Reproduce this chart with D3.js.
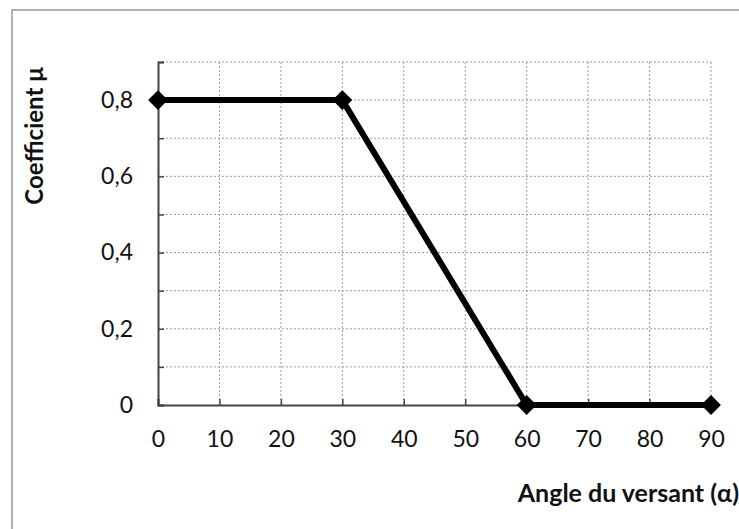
<!DOCTYPE html>
<html>
<head>
<meta charset="utf-8">
<script src="https://cdn.jsdelivr.net/npm/d3@7"></script>
<style>
body { margin: 0; background: #fff; }
svg { display: block; }
</style>
</head>
<body>
<svg id="chart" width="739" height="529"></svg>
<script>
// angle du versant (degrees) and coefficient mu
var angles = [0, 30, 60, 90];
var coeffs = [0.8, 0.8, 0, 0];
var xTicks = [0, 10, 20, 30, 40, 50, 60, 70, 80, 90];
var yTicks = [0, 0.2, 0.4, 0.6, 0.8];
var yGrid = [0.1, 0.2, 0.3, 0.4, 0.5, 0.6, 0.7, 0.8, 0.9];

var svg = d3.select('#chart');
var margin = {top: 62, left: 158, right: 28, bottom: 124};
var w = 739 - margin.left - margin.right;
var h = 529 - margin.top - margin.bottom;
var font = 'Lato, Open Sans, sans-serif';

// scanned frame
svg.append('path')
    .attr('d', 'M12,529 L12,10 L739,10')
    .attr('fill', 'none')
    .attr('stroke', '#9a9a9a')
    .attr('stroke-width', 1.5);

var g = svg.append('g')
    .attr('transform', 'translate(' + margin.left + ',' + margin.top + ')');

var x = d3.scaleLinear().domain([0, 90]).range([0, w]);
var y = d3.scaleLinear().domain([0, 0.9]).range([h, 0]);

// grid
g.selectAll('.hgrid')
    .data(yGrid)
    .enter()
    .append('line')
    .attr('x1', 0)
    .attr('x2', w)
    .attr('y1', function (d) { return y(d); })
    .attr('y2', function (d) { return y(d); })
    .attr('stroke', '#999')
    .attr('stroke-width', 1)
    .attr('stroke-dasharray', '2,2');

g.selectAll('.vgrid')
    .data(xTicks.slice(1))
    .enter()
    .append('line')
    .attr('x1', function (d) { return x(d); })
    .attr('x2', function (d) { return x(d); })
    .attr('y1', 0)
    .attr('y2', h)
    .attr('stroke', '#999')
    .attr('stroke-width', 1)
    .attr('stroke-dasharray', '2,2');

// axes lines with inward ticks
var xAxis = d3.axisBottom(x).tickValues(xTicks).tickSize(-6).tickPadding(26)
    .tickFormat(d3.format('d'));
var yAxis = d3.axisLeft(y).tickValues(yGrid.concat([0])).tickSize(-6).tickPadding(25)
    .tickFormat(function (d) {
        if (yTicks.indexOf(Math.round(d * 10) / 10) < 0) return '';
        return d === 0 ? '0' : d.toFixed(1).replace('.', ',');
    });

var gx = g.append('g')
    .attr('transform', 'translate(0,' + h + ')')
    .call(xAxis);
var gy = g.append('g').call(yAxis);

[gx, gy].forEach(function (a) {
    a.select('.domain').attr('stroke', '#444').attr('stroke-width', 2);
    a.selectAll('.tick line').attr('stroke', '#444').attr('stroke-width', 1.5);
    a.selectAll('.tick text')
        .attr('fill', '#111')
        .style('font-family', font)
        .style('font-size', '23px');
});
gy.select('.tick:first-of-type text').attr('dx', '-0.6em');

// data line
var line = d3.line()
    .x(function (d, i) { return x(angles[i]); })
    .y(function (d) { return y(d); });

g.append('path')
    .datum(coeffs)
    .attr('d', line)
    .attr('fill', 'none')
    .attr('stroke', '#000')
    .attr('stroke-width', 6)
    .attr('stroke-linejoin', 'round');

g.selectAll('.pt')
    .data(coeffs)
    .enter()
    .append('path')
    .attr('d', d3.symbol().type(d3.symbolDiamond2).size(250))
    .attr('transform', function (d, i) {
        return 'translate(' + x(angles[i]) + ',' + y(d) + ')';
    })
    .attr('fill', '#000');

// axis titles
svg.append('text')
    .attr('transform', 'translate(43,136) rotate(-90)')
    .attr('text-anchor', 'middle')
    .style('font-family', font)
    .style('font-weight', 'bold')
    .style('font-size', '24px')
    .attr('fill', '#111')
    .text('Coefficient μ');

svg.append('text')
    .attr('x', 739)
    .attr('y', 502)
    .attr('text-anchor', 'end')
    .style('font-family', font)
    .style('font-weight', 'bold')
    .style('font-size', '25px')
    .attr('fill', '#111')
    .text('Angle du versant (α)');
</script>
</body>
</html>
